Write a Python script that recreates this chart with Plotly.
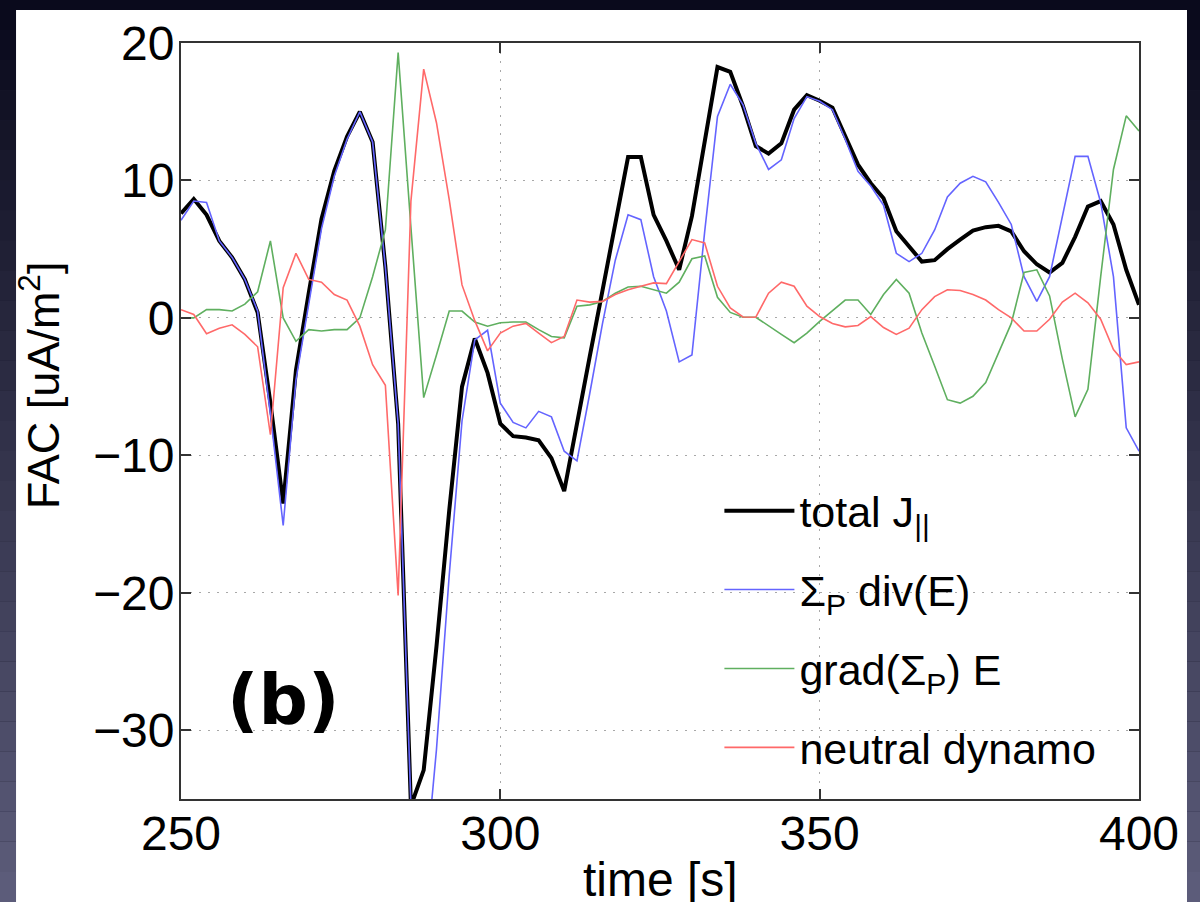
import plotly.graph_objects as go

time_s = [250, 252, 254, 256, 258, 260, 262, 264, 266, 268,
          270, 272, 274, 276, 278, 280, 282, 284, 286, 288,
          290, 292, 294, 296, 298, 300, 302, 304, 306, 308,
          310, 312, 314, 316, 318, 320, 322, 324, 326, 328,
          330, 332, 334, 336, 338, 340, 342, 344, 346, 348,
          350, 352, 354, 356, 358, 360, 362, 364, 366, 368,
          370, 372, 374, 376, 378, 380, 382, 384, 386, 388,
          390, 392, 394, 396, 398, 400]

total_j = [7.6, 8.65, 7.5, 5.6, 4.4, 2.8, 0.4, -6.2, -13.5, -3.8,
           1.8, 7.2, 10.7, 13.2, 15.0, 12.8, 3.7, -7.7, -35.5, -32.9,
           -23.9, -14.0, -5.0, -1.5, -4.0, -7.7, -8.6, -8.7, -8.9, -10.2,
           -12.6, -7.5, -2.8, 2.0, 6.9, 11.7, 11.7, 7.5, 5.6, 3.5,
           7.4, 13.0, 18.25, 17.9, 15.4, 12.5, 11.95, 12.7, 15.15, 16.2,
           15.8, 15.3, 13.2, 11.15, 9.8, 8.7, 6.3, 5.2, 4.1, 4.2,
           5.0, 5.7, 6.35, 6.6, 6.7, 6.3, 4.85, 3.9, 3.3, 4.0,
           5.9, 8.1, 8.5, 6.8, 3.5, 0.96]

sigma_div_e = [7.1, 8.5, 8.4, 5.6, 4.4, 2.8, 0.5, -7.0, -15.1, -4.5,
               1.0, 6.5, 10.3, 13.0, 15.0, 12.8, 3.7, -7.7, -35.5, -41.5,
               -31.4, -18.7, -7.5, -1.6, -0.9, -6.2, -7.6, -8.0, -6.8, -7.2,
               -9.7, -10.4, -5.5, -0.4, 4.2, 7.5, 7.15, 3.0, 0.5, -3.2,
               -2.7, 6.3, 14.66, 17.0, 15.5, 12.7, 10.8, 11.5, 14.5, 16.1,
               15.76, 15.15, 13.0, 10.66, 9.6, 8.2, 4.7, 4.1, 4.7, 6.4,
               8.8, 9.8, 10.3, 9.9, 8.4, 6.8, 3.0, 1.2, 3.0, 7.3,
               11.75, 11.75, 8.4, 3.0, -8.0, -9.7]

grad_sigma_e = [0.0, 0.0, 0.6, 0.6, 0.5, 1.0, 1.9, 5.6, 0.0, -1.7,
                -0.85, -0.95, -0.85, -0.85, 0.0, 3.0, 6.4, 19.3, 6.6, -5.8,
                -2.7, 0.5, 0.5, -0.3, -0.6, -0.35, -0.3, -0.3, -0.85, -1.35,
                -1.45, 0.85, 0.95, 1.2, 1.8, 2.25, 2.3, 2.05, 1.8, 2.6,
                4.3, 4.5, 1.5, 0.4, 0.05, 0.05, -0.6, -1.2, -1.8, -1.1,
                -0.25, 0.5, 1.3, 1.3, 0.25, 1.7, 2.8, 1.8, -1.1, -3.5,
                -5.95, -6.2, -5.7, -4.7, -2.55, -0.4, 3.3, 3.5, 1.6, -3.0,
                -7.2, -5.2, 3.0, 10.8, 14.7, 13.6]

neutral_dynamo = [0.6, 0.25, -1.15, -0.75, -0.5, -1.2, -2.1, -8.5, 2.2, 4.7,
                  2.8, 2.6, 1.7, 1.3, -0.6, -3.4, -4.9, -20.2, 8.5, 18.1,
                  14.2, 8.6, 2.4, -0.2, -2.4, -1.1, -0.6, -0.4, -1.1, -1.8,
                  -1.35, 1.3, 1.15, 1.2, 1.7, 2.05, 2.3, 2.55, 2.5, 4.1,
                  5.7, 5.45, 2.3, 0.73, 0.07, 0.05, 1.8, 2.6, 2.3, 0.85,
                  0.1, -0.4, -0.65, -0.55, 0.1, -0.7, -1.2, -0.75, 0.6, 1.55,
                  2.05, 2.0, 1.7, 1.3, 0.6, 0.0, -0.95, -0.95, -0.1, 1.15,
                  1.8, 1.1, -0.1, -2.3, -3.4, -3.2]

x_ticks = [250, 300, 350, 400]
y_ticks = [-30, -20, -10, 0, 10, 20]

series_names = ["total J<sub>||</sub>", "Σ<sub>P</sub> div(E)",
                "grad(Σ<sub>P</sub>) E", "neutral dynamo"]

fig = go.Figure()
fig.add_trace(go.Scatter(x=time_s, y=total_j, mode="lines", name=series_names[0],
                         line=dict(color="black", width=4), legendgroup="a"))
fig.add_trace(go.Scatter(x=time_s, y=sigma_div_e, mode="lines", name=series_names[1],
                         line=dict(color="rgb(100,100,255)", width=1.6), legendgroup="b"))
fig.add_trace(go.Scatter(x=time_s, y=grad_sigma_e, mode="lines", name=series_names[2],
                         line=dict(color="rgb(95,175,95)", width=1.6), legendgroup="c"))
fig.add_trace(go.Scatter(x=time_s, y=neutral_dynamo, mode="lines", name=series_names[3],
                         line=dict(color="rgb(255,105,105)", width=1.6), legendgroup="d"))

# background gradient strips + white panel
shapes = []
n = 30
y_top, y_bot = 1.0569, -0.1362
c_top = (10, 10, 28)
c_bot = (92, 92, 122)
for i in range(n):
    f = i / (n - 1)
    col = tuple(int(c_top[k] + (c_bot[k] - c_top[k]) * f) for k in range(3))
    y0 = y_top + (y_bot - y_top) * i / n
    y1 = y_top + (y_bot - y_top) * (i + 1) / n
    shapes.append(dict(type="rect", xref="paper", yref="paper", x0=-0.19, x1=1.07,
                       y0=y0, y1=y1, fillcolor="rgb(%d,%d,%d)" % col,
                       line=dict(width=0), layer="below"))
shapes.append(dict(type="rect", xref="paper", yref="paper", x0=-0.1722, x1=1.0501,
                   y0=-0.14, y1=1.0437, fillcolor="white", line=dict(width=0), layer="below"))

axis_common = dict(showgrid=True, gridcolor="#a8a8a8", griddash="2px,7px", gridwidth=1,
                   showline=True, linecolor="#333333", linewidth=2, mirror="ticks",
                   ticks="inside", ticklen=10, tickwidth=1.5, tickcolor="#333333",
                   zeroline=False, tickfont=dict(size=48))

fig.update_layout(
    width=1200, height=902,
    margin=dict(l=181, r=61, t=43, b=103),
    paper_bgcolor="rgb(30,30,50)", plot_bgcolor="white",
    font=dict(family="Liberation Sans, Arial, Helvetica, sans-serif", size=42, color="black"),
    shapes=shapes,
    xaxis=dict(range=[250, 400], tickvals=x_ticks, ticklabelstandoff=-9, **axis_common),
    yaxis=dict(range=[-35, 20], tickvals=y_ticks, ticklabelstandoff=-5, **axis_common),
    legend=dict(x=0.562, y=0.427, xanchor="left", yanchor="top", bgcolor="rgba(0,0,0,0)",
                font=dict(size=43), tracegroupgap=20, itemwidth=70),
    annotations=[
        dict(text="<b>(b)</b>", x=0.1065, y=0.131, xref="paper", yref="paper",
             xanchor="center", yanchor="middle", showarrow=False,
             font=dict(size=69, color="black", family="DejaVu Sans, Liberation Sans, sans-serif")),
        dict(text="time [s]", x=0.501, y=-0.107, xref="paper", yref="paper",
             xanchor="center", yanchor="middle", showarrow=False,
             font=dict(size=48, color="black")),
        dict(text="FAC [uA/m<sup>2</sup>]", x=-0.147, y=0.5476, xref="paper", yref="paper",
             xanchor="center", yanchor="middle", showarrow=False, textangle=-90,
             font=dict(size=45, color="black")),
    ],
)

fig.write_html("out.html", config={"displayModeBar": False},
               post_script="document.body.style.margin='0';document.body.style.overflow='hidden';")
